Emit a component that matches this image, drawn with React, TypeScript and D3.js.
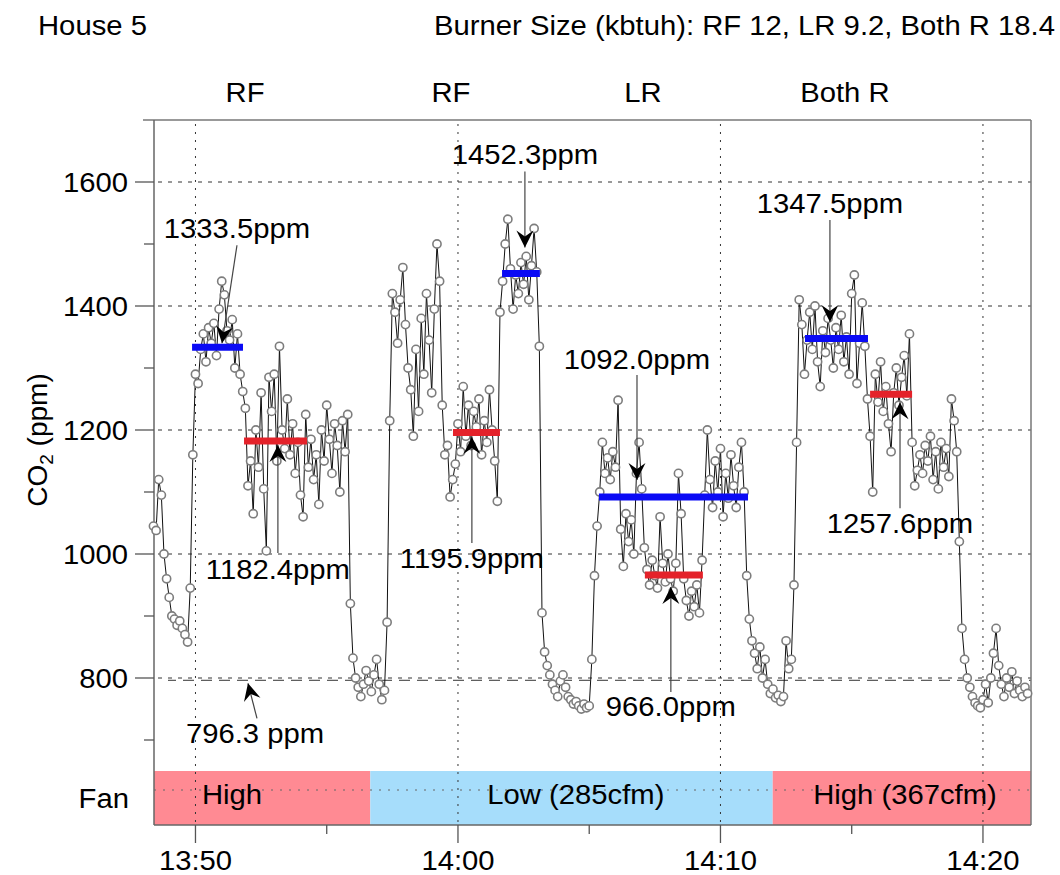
import React from 'react';
import * as d3 from 'd3';

// ---------- data ----------
const startMinute = 48.4; // minutes after 13:00 of first sample
const stepMinutes = 0.1;  // sampling interval (6 s)

const co2 = [
  // before first burner
  1045, 1038, 1120, 1095, 1000, 960, 930, 900, 895, 885,
  892, 880, 870, 858, 945, 1160,
  // RF burner on
  1290, 1275, 1330, 1355, 1310, 1365, 1340, 1372, 1320, 1395,
  1440, 1418, 1360, 1345, 1378, 1300, 1355, 1290, 1262,
  // RF after
  1235, 1110, 1150, 1065, 1200, 1140, 1260, 1105, 1005, 1285,
  1230, 1290, 1150, 1335, 1200, 1170, 1250, 1160, 1210, 1130,
  1180, 1095, 1060, 1225,
  1140, 1185, 1120, 1160, 1080, 1200, 1150, 1240, 1185, 1130,
  1210, 1175, 1100, 1215, 1165, 1225,
  // decay
  920, 832, 800, 785, 770, 790, 812, 795, 778, 805,
  830, 790, 765, 780, 890, 1215, 1420,
  // RF second
  1390, 1340, 1410, 1462, 1370, 1300, 1265, 1190, 1330, 1230,
  1380, 1290, 1420, 1345, 1260, 1395, 1500, 1440, 1240, 1160,
  1175, 1092, 1120, 1145, 1210, 1165, 1270, 1190, 1240, 1175,
  1230, 1205, 1250, 1160, 1215, 1180, 1265, 1200, 1150, 1085,
  1390,
  1440, 1500, 1540, 1460, 1395, 1450, 1420, 1470, 1435, 1480,
  1410, 1465, 1525, 1455,
  // decay
  1335, 905, 842, 820, 805, 790, 780, 770, 795, 805,
  785, 770, 765, 758, 762, 755, 750, 758, 752, 755,
  830, 965, 1045,
  // LR
  1100, 1180, 1130, 1155, 1120, 1165, 1140, 1248, 1040, 980,
  1065, 1020, 1055, 1000, 1130, 1180, 1105, 1010, 975, 950,
  990, 965, 945, 1060, 985, 955, 1000, 960, 940, 985,
  1130, 1065, 960, 925, 900, 940, 915, 950, 905, 990,
  1095, 1200, 1120, 1075, 1150, 1100, 1170, 1060, 1130, 1090,
  1160, 1110, 1075, 1140, 1180, 1100, 965,
  // decay
  895, 860, 840, 815, 850, 800, 830, 790, 775, 782,
  768, 772, 762, 770, 860, 815, 830, 950, 1180, 1410,
  // Both R
  1370, 1290, 1345, 1390, 1330, 1400, 1310, 1270, 1360, 1325,
  1380, 1345, 1300, 1365, 1330, 1385, 1310, 1350, 1290, 1420,
  1450, 1275, 1340, 1405, 1335,
  1250, 1190, 1100, 1290, 1245, 1310, 1230, 1270, 1210, 1165,
  1260, 1300, 1240, 1285, 1320, 1255, 1355,
  1180, 1110, 1135, 1160, 1130, 1175, 1150, 1190, 1120, 1165,
  1105, 1180, 1140, 1170, 1125, 1250, 1215,
  // decay
  1165, 1020, 880, 830, 800, 785, 770, 760, 755, 752,
  765, 790, 760, 800, 840, 880, 820, 790, 770, 800,
  785, 810, 775, 795, 780, 770, 785, 775,
];

const meanStart = [49.87, 51.85, 59.81, 61.68, 65.37, 67.12, 73.22, 75.7];
const meanEnd = [51.81, 54.25, 61.6, 63.12, 71.05, 69.33, 75.62, 77.3];
const meanValue = [1333.5, 1182.4, 1195.9, 1452.3, 1092.0, 966.0, 1347.5, 1257.6];
const meanKind = ['on', 'after', 'after', 'on', 'on', 'after', 'on', 'after'];
const meanLabel = ['1333.5ppm', '1182.4ppm', '1195.9ppm', '1452.3ppm', '1092.0ppm', '966.0ppm', '1347.5ppm', '1257.6ppm'];

const baselineValue = 796.3;
const baselineLabel = '796.3 ppm';

const burnerNames = ['RF', 'RF', 'LR', 'Both R'];
const burnerMinute = [51.89, 59.73, 67.05, 74.74];

const fanStart = [48.42, 56.66, 71.99];
const fanEnd = [56.66, 71.99, 81.83];
const fanNames = ['High', 'Low (285cfm)', 'High (367cfm)'];
const fanLabelMinute = [51.39, 64.49, 77.03];

const majorTicks = [50, 60, 70, 80];
const majorTickLabels = ['13:50', '14:00', '14:10', '14:20'];
const minorTicks = [55, 65, 75];
const yMajor = [800, 1000, 1200, 1400, 1600];
const yMinor = [700, 900, 1100, 1300, 1500];

// ---------- layout (pixels) ----------
const FONT = '"Liberation Sans", Arial, Helvetica, sans-serif';
const FS = 28;
const SX = 1.045; // horizontal stretch of the lettering
const L = 154, R = 1031, T = 120, PB = 771, B = 825;
const colorOn = '#0a0af5';
const colorAfter = '#e4222a';
const fanColor = ['#ff8a93', '#a6ddfb', '#ff8a93'];

// annotation placement: tip minute, direction, gap from bar, tail dx, tail length, text dy
const annot = [
  { m: 51.01, dir: 'down', gap: 4, dx: 15, len: 98, tdy: -7 },
  { m: 53.14, dir: 'up', gap: 4, dx: 0, len: 108, tdy: 26 },
  { m: 60.53, dir: 'up', gap: 4.5, dx: 0, len: 106, tdy: 25 },
  { m: 62.55, dir: 'down', gap: 26, dx: 0, len: 76, tdy: -8 },
  { m: 66.82, dir: 'down', gap: 17, dx: 0, len: 105, tdy: -6 },
  { m: 68.11, dir: 'up', gap: 12, dx: 0, len: 105, tdy: 24 },
  { m: 74.17, dir: 'down', gap: 16.5, dx: 0, len: 102, tdy: -7 },
  { m: 76.84, dir: 'up', gap: 8, dx: 0, len: 106, tdy: 25 },
];

function Txt({ x, y, anchor = 'start', children }: { x: number; y: number; anchor?: string; children: any }) {
  return (
    <g transform={`translate(${x},${y}) scale(${SX},1)`}>
      <text x={0} y={0} textAnchor={anchor} fontFamily={FONT} fontSize={FS} fill="#000">
        {children}
      </text>
    </g>
  );
}

function ArrowHead({ tx, ty, fx, fy }: { tx: number; ty: number; fx: number; fy: number }) {
  const ang = (Math.atan2(ty - fy, tx - fx) * 180) / Math.PI;
  return (
    <path
      d="M0,0 L-17,-8.5 L-11,0 L-17,8.5 Z"
      fill="#000"
      transform={`translate(${tx},${ty}) rotate(${ang})`}
    />
  );
}

export default function App() {
  const x = d3.scaleLinear().domain([48.42, 81.83]).range([L, R]);
  const y = d3.scaleLinear().domain([650, 1700]).range([PB, T]);

  const pts = co2.map((v, i) => ({ t: startMinute + i * stepMinutes, v }));
  const line = d3
    .line<{ t: number; v: number }>()
    .x((d) => x(d.t))
    .y((d) => y(d.v));

  return (
    <svg
      width={1060}
      height={875}
      style={{ position: 'absolute', left: 0, top: 0, background: '#fff' }}
    >
      {/* titles */}
      <Txt x={38} y={35}>House 5</Txt>
      <Txt x={1055} y={35} anchor="end">Burner Size (kbtuh): RF 12, LR 9.2, Both R 18.4</Txt>
      {burnerNames.map((n, i) => (
        <Txt key={'b' + i} x={x(burnerMinute[i])} y={102} anchor="middle">{n}</Txt>
      ))}

      {/* fan band */}
      {fanNames.map((n, i) => (
        <rect
          key={'fr' + i}
          x={x(fanStart[i])}
          y={PB}
          width={x(fanEnd[i]) - x(fanStart[i])}
          height={B - PB}
          fill={fanColor[i]}
        />
      ))}
      <line x1={L} x2={R} y1={790} y2={790} stroke="#666" strokeDasharray="2,7" />

      {/* grid */}
      {yMajor.map((v) => (
        <line key={'gy' + v} x1={L + 4} x2={R} y1={y(v)} y2={y(v)} stroke="#333" strokeDasharray="4,6" />
      ))}
      {majorTicks.map((m) => (
        <line key={'gx' + m} x1={x(m)} x2={x(m)} y1={T + 4} y2={B} stroke="#333" strokeDasharray="2,6" />
      ))}
      <line
        x1={168}
        x2={R}
        y1={y(baselineValue)}
        y2={y(baselineValue)}
        stroke="#333"
        strokeDasharray="11,7"
        strokeDashoffset={3}
      />

      {fanNames.map((n, i) => (
        <Txt key={'ft' + i} x={x(fanLabelMinute[i])} y={804} anchor="middle">{n}</Txt>
      ))}
      <Txt x={129} y={808} anchor="end">Fan</Txt>

      {/* frame and axes */}
      <line x1={143} x2={R} y1={T} y2={T} stroke="#777" strokeWidth={1.5} />
      <line x1={R} x2={R} y1={T} y2={B} stroke="#777" strokeWidth={1.5} />
      <line x1={L} x2={L} y1={T} y2={B} stroke="#666" strokeWidth={1.5} />
      <line x1={L} x2={R} y1={B} y2={B} stroke="#666" strokeWidth={1.5} />
      {yMajor.map((v) => (
        <g key={'yt' + v}>
          <line x1={L - 19} x2={L} y1={y(v)} y2={y(v)} stroke="#555" strokeWidth={1.3} />
          <Txt x={128} y={y(v) + 10} anchor="end">{v}</Txt>
        </g>
      ))}
      {yMinor.map((v) => (
        <line key={'ym' + v} x1={L - 10} x2={L} y1={y(v)} y2={y(v)} stroke="#555" strokeWidth={1.3} />
      ))}
      {majorTicks.map((m, i) => (
        <g key={'xt' + m}>
          <line x1={x(m)} x2={x(m)} y1={B} y2={B + 18} stroke="#555" strokeWidth={1.3} />
          <Txt x={x(m)} y={870} anchor="middle">{majorTickLabels[i]}</Txt>
        </g>
      ))}
      {minorTicks.map((m) => (
        <line key={'xm' + m} x1={x(m)} x2={x(m)} y1={B} y2={B + 9} stroke="#555" strokeWidth={1.3} />
      ))}
      <text
        transform="rotate(-90)"
        x={-440}
        y={47}
        textAnchor="middle"
        fontFamily={FONT}
        fontSize={FS}
        fill="#000"
      >
        CO<tspan fontSize={19} dy={6}>2</tspan>
        <tspan dy={-6}> (ppm)</tspan>
      </text>

      {/* data */}
      <path d={line(pts) || ''} fill="none" stroke="#111" strokeWidth={1} />
      {pts.map((d, i) => (
        <circle
          key={'p' + i}
          cx={x(d.t)}
          cy={y(d.v)}
          r={4.1}
          fill="#fff"
          stroke="#7d7d7d"
          strokeWidth={1.6}
        />
      ))}

      {/* mean bars */}
      {meanValue.map((v, i) => (
        <line
          key={'mb' + i}
          x1={x(meanStart[i])}
          x2={x(meanEnd[i])}
          y1={y(v)}
          y2={y(v)}
          stroke={meanKind[i] === 'on' ? colorOn : colorAfter}
          strokeWidth={7}
        />
      ))}

      {/* annotations */}
      {annot.map((a, i) => {
        const tipX = x(a.m);
        const tipY = a.dir === 'down' ? y(meanValue[i]) - a.gap : y(meanValue[i]) + a.gap;
        const tailX = tipX + a.dx;
        const tailY = a.dir === 'down' ? tipY - a.len : tipY + a.len;
        return (
          <g key={'an' + i}>
            <line x1={tailX} y1={tailY} x2={tipX} y2={tipY} stroke="#444" strokeWidth={1.2} />
            <ArrowHead tx={tipX} ty={tipY} fx={tailX} fy={tailY} />
            <Txt x={tailX} y={tailY + a.tdy} anchor="middle">{meanLabel[i]}</Txt>
          </g>
        );
      })}
      {(() => {
        const tipX = x(52.0);
        const tipY = y(baselineValue) + 3;
        const tailX = tipX + 9;
        const tailY = tipY + 35;
        return (
          <g>
            <line x1={tailX} y1={tailY} x2={tipX} y2={tipY} stroke="#444" strokeWidth={1.2} />
            <ArrowHead tx={tipX} ty={tipY} fx={tailX} fy={tailY} />
            <Txt x={255} y={743} anchor="middle">{baselineLabel}</Txt>
          </g>
        );
      })()}
    </svg>
  );
}
